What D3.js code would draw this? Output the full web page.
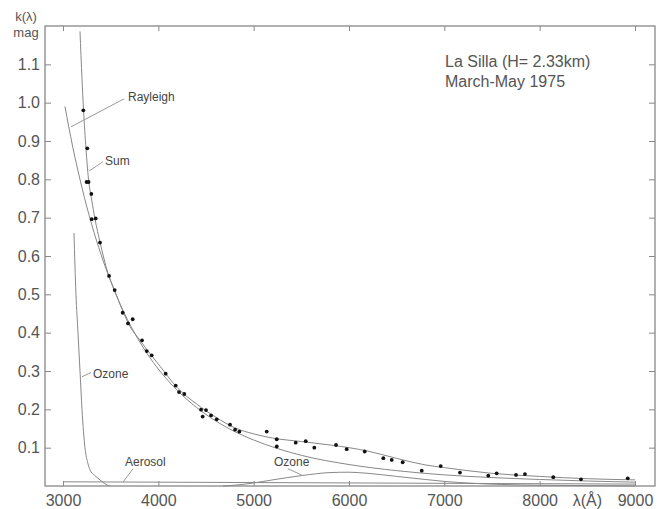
<!DOCTYPE html>
<html>
<head>
<meta charset="utf-8">
<script src="https://cdn.jsdelivr.net/npm/d3@7"></script>
<style>
  body { margin: 0; background: #fff; }
  svg { font-family: "Liberation Sans", Arial, sans-serif; }
  .axis text { fill: #555; font-size: 16px; font-family: "Liberation Sans", Arial, sans-serif; }
  .axis line { stroke: #888; }
  .curve { fill: none; stroke: #888; stroke-width: 1; }
  .lbl { fill: #444; font-size: 12px; }
  .leader { stroke: #999; stroke-width: 1; }
</style>
</head>
<body>
<div id="chart"></div>
<script>
var width = 664,
    height = 509;

// curves (wavelength in Angstrom, extinction in mag)
var rayleighLambda = [3020,3100,3200,3300,3400,3500,3600,3800,4000,4200,4400,4600,4800,5000,5500,6000,6500,7000,7500,8000,8500,9000];
var rayleighK      = [0.99,0.887,0.777,0.683,0.603,0.534,0.474,0.378,0.305,0.249,0.205,0.170,0.142,0.120,0.080,0.056,0.040,0.029,0.022,0.017,0.013,0.010];

var sumLambda = [3178,3199,3215,3241,3267,3299,3336,3388,3472,3545,3619,3703,3808,3913,4000,4200,4400,4600,4800,5000,5200,5500,5800,6000,6200,6500,6800,7000,7500,8000,8500,9000];
var sumK      = [1.186,1.063,0.982,0.880,0.801,0.749,0.696,0.636,0.555,0.508,0.461,0.416,0.380,0.345,0.318,0.256,0.214,0.180,0.152,0.136,0.125,0.116,0.107,0.100,0.091,0.072,0.055,0.048,0.033,0.025,0.019,0.016];

var ozoneUvLambda = [3115,3136,3157,3178,3199,3230,3260,3283,3330,3388,3440,3490];
var ozoneUvK      = [0.66,0.50,0.40,0.30,0.20,0.10,0.06,0.042,0.028,0.016,0.006,0];

var ozoneVisLambda = [4680,4800,5000,5200,5500,5800,6000,6200,6500,6800,7000,7300,7600,8000,8500,9000];
var ozoneVisK      = [0,0.002,0.008,0.016,0.027,0.035,0.036,0.033,0.025,0.017,0.012,0.007,0.004,0.002,0.001,0];

var aerosolLambda = [3000,4000,5000,6000,7000,8000,9000];
var aerosolK      = [0.011,0.010,0.009,0.008,0.007,0.006,0.005];

// measured points
var dotLambda = [3213,3255,3247,3268,3297,3301,3343,3388,3483,3542,3626,3682,3731,3829,3878,3930,4077,4182,4217,4272,4448,4465,4500,4553,4612,4752,4805,4850,5137,5242,5242,5441,5546,5636,5864,5976,6165,6360,6448,6563,6763,6962,7164,7461,7549,7752,7846,8143,8434,8924];
var dotK      = [0.980,0.881,0.793,0.793,0.762,0.696,0.698,0.635,0.548,0.511,0.452,0.424,0.435,0.380,0.352,0.341,0.293,0.262,0.245,0.240,0.199,0.181,0.198,0.184,0.174,0.160,0.147,0.142,0.142,0.122,0.103,0.113,0.117,0.100,0.107,0.096,0.090,0.0725,0.068,0.062,0.040,0.052,0.035,0.027,0.033,0.029,0.031,0.023,0.0175,0.020];

var xTicks = [3000,4000,5000,6000,7000,8000,9000];
var yTicks = [0.1,0.2,0.3,0.4,0.5,0.6,0.7,0.8,0.9,1.0,1.1];
var yTickLabels = ["0.1","0.2","0.3","0.4","0.5","0.6","0.7","0.8","0.9","1.0","1.1"];

var plotLeft = 45, plotRight = 655, plotTop = 26, plotBottom = 486;

var svg = d3.select("#chart")
    .append("svg")
    .attr("width", width)
    .attr("height", height);

var x = d3.scaleLinear().domain([2811, 9210]).range([plotLeft, plotRight]);
var y = d3.scaleLinear().domain([0, 1.2]).range([plotBottom, plotTop]);

function zip(a, b) {
  return a.map(function(d, i) { return [d, b[i]]; });
}

var line = d3.line()
    .x(function(d) { return x(d[0]); })
    .y(function(d) { return y(d[1]); })
    .curve(d3.curveMonotoneX);

// frame
svg.append("rect")
    .attr("x", plotLeft).attr("y", plotTop)
    .attr("width", plotRight - plotLeft).attr("height", plotBottom - plotTop)
    .attr("fill", "none")
    .attr("stroke", "#888")
    .attr("stroke-width", 1.3);

svg.append("g").attr("class", "axis")
    .attr("transform", "translate(0," + plotBottom + ")")
    .call(d3.axisBottom(x).tickValues(xTicks).tickSize(-5).tickPadding(9)
      .tickFormat(d3.format("d")));
svg.append("g").attr("class", "axis")
    .attr("transform", "translate(0," + plotTop + ")")
    .call(d3.axisTop(x).tickValues(xTicks).tickSize(-5).tickFormat(""));
svg.append("g").attr("class", "axis")
    .attr("transform", "translate(" + plotLeft + ",0)")
    .call(d3.axisLeft(y).tickValues(yTicks).tickSize(-6).tickPadding(5)
      .tickFormat(function(d, i) { return yTickLabels[i]; }));
svg.append("g").attr("class", "axis")
    .attr("transform", "translate(" + plotRight + ",0)")
    .call(d3.axisRight(y).tickValues(yTicks).tickSize(-6).tickFormat(""));
svg.selectAll(".axis .domain").remove();
svg.selectAll(".axis").attr("font-size", null).attr("font-family", null);

// curves
svg.append("path").attr("class", "curve").attr("d", line(zip(aerosolLambda, aerosolK)));
svg.append("path").attr("class", "curve").attr("d", line(zip(ozoneVisLambda, ozoneVisK)));
svg.append("path").attr("class", "curve").attr("d", line(zip(ozoneUvLambda, ozoneUvK)));
svg.append("path").attr("class", "curve").attr("d", line(zip(rayleighLambda, rayleighK)));
svg.append("path").attr("class", "curve").attr("d", line(zip(sumLambda, sumK)));

svg.selectAll(".dot")
    .data(zip(dotLambda, dotK))
    .enter().append("circle")
    .attr("class", "dot")
    .attr("cx", function(d) { return x(d[0]); })
    .attr("cy", function(d) { return y(d[1]); })
    .attr("r", 1.9)
    .attr("fill", "#111");

// curve labels with leader lines (data units)
var labels = [
  {text: "Rayleigh", at: [3682, 1.005], from: [3640, 1.010], to: [3084, 0.937]},
  {text: "Sum",      at: [3440, 0.838], from: [3420, 0.846], to: [3276, 0.822]},
  {text: "Ozone",    at: [3315, 0.283], from: [3294, 0.296], to: [3199, 0.285]},
  {text: "Aerosol",  at: [3650, 0.052], from: [3734, 0.045], to: [3629, 0.010]},
  {text: "Ozone",    at: [5213, 0.052], from: [5360, 0.045], to: [5518, 0.027]}
];

svg.selectAll(".leader")
    .data(labels)
    .enter().append("line")
    .attr("class", "leader")
    .attr("x1", function(d) { return x(d.from[0]); })
    .attr("y1", function(d) { return y(d.from[1]); })
    .attr("x2", function(d) { return x(d.to[0]); })
    .attr("y2", function(d) { return y(d.to[1]); });

svg.selectAll(".lbl")
    .data(labels)
    .enter().append("text")
    .attr("class", "lbl")
    .attr("x", function(d) { return x(d.at[0]); })
    .attr("y", function(d) { return y(d.at[1]); })
    .text(function(d) { return d.text; });

// axis titles
svg.append("text").attr("x", 26).attr("y", 21)
    .attr("text-anchor", "middle").attr("fill", "#555").attr("font-size", 13)
    .text("k(λ)");
svg.append("text").attr("x", 26).attr("y", 37)
    .attr("text-anchor", "middle").attr("fill", "#555").attr("font-size", 13)
    .text("mag");
svg.append("text").attr("x", 602).attr("y", 506)
    .attr("text-anchor", "end").attr("fill", "#555").attr("font-size", 16)
    .text("λ(Å)");

// site note
svg.append("text").attr("x", 445).attr("y", 67)
    .attr("fill", "#555").attr("font-size", 16)
    .text("La Silla (H= 2.33km)");
svg.append("text").attr("x", 445).attr("y", 87)
    .attr("fill", "#555").attr("font-size", 16)
    .text("March-May 1975");
</script>
</body>
</html>
